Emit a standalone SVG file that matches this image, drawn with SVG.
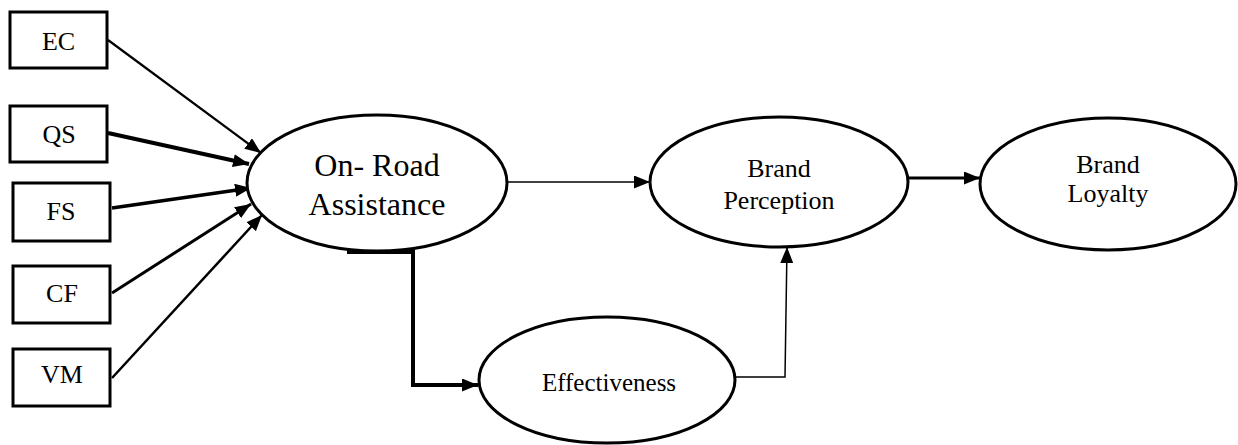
<svg xmlns="http://www.w3.org/2000/svg" width="1238" height="445" viewBox="0 0 1238 445">
<style>
.box{fill:#fff;stroke:#000;stroke-width:3}
.ell{fill:#fff;stroke:#000;stroke-width:3}
.lbl{fill:#000;text-anchor:middle}
.c{fill:none;stroke:#000;marker-end:url(#ah)}
</style>
<defs>
<marker id="ah" viewBox="0 0 16 13" refX="16" refY="6.5" markerWidth="16" markerHeight="13" markerUnits="userSpaceOnUse" orient="auto">
<path d="M0,0 L16,6.5 L0,13 z" fill="#000"/>
</marker>
</defs>
<g id="connectors">
<path class="c" stroke-width="2.2" d="M108,40 L261,153"/>
<path class="c" stroke-width="4" d="M108,133 L249,164"/>
<path class="c" stroke-width="3.5" d="M112,208 L251,188"/>
<path class="c" stroke-width="3" d="M112,293 L251,204"/>
<path class="c" stroke-width="2.5" d="M112,378 L262,215"/>
<path class="c" stroke-width="1.3" d="M508,182 L650,182"/>
<path class="c" stroke-width="3" d="M908,178 L980,178"/>
<path class="c" stroke-width="4" d="M347,252 H413 V385 H478"/>
<path class="c" stroke-width="1.5" d="M735,377 H785 L787,247"/>
</g>
<g font-family="Liberation Serif, Times New Roman, DejaVu Serif, serif">
<g id="EC"><rect class="box" x="10" y="12" width="97" height="56"/><text class="lbl" x="58.5" y="50" font-size="26">EC</text></g>
<g id="QS"><rect class="box" x="10" y="106" width="97" height="56"/><text class="lbl" x="59" y="143" font-size="26">QS</text></g>
<g id="FS"><rect class="box" x="13" y="183" width="97" height="58" stroke-width="2.5"/><text class="lbl" x="61" y="220" font-size="26">FS</text></g>
<g id="CF"><rect class="box" x="13" y="266" width="97" height="57" stroke-width="2.5"/><text class="lbl" x="62" y="302" font-size="26">CF</text></g>
<g id="VM"><rect class="box" x="13" y="349" width="97" height="57"/><text class="lbl" x="62" y="383" font-size="26">VM</text></g>
<g id="OnRoad"><ellipse class="ell" cx="377" cy="183" rx="130" ry="68"/><text class="lbl" x="377" y="176" font-size="32">On- Road</text><text class="lbl" x="377" y="215" font-size="32">Assistance</text></g>
<g id="BrandPerception"><ellipse class="ell" cx="779" cy="182" rx="129" ry="65"/><text class="lbl" x="779" y="177" font-size="26">Brand</text><text class="lbl" x="779" y="209" font-size="26">Perception</text></g>
<g id="BrandLoyalty"><ellipse class="ell" cx="1108" cy="184" rx="128" ry="66"/><text class="lbl" x="1108" y="173" font-size="26">Brand</text><text class="lbl" x="1108" y="202" font-size="26">Loyalty</text></g>
<g id="Effectiveness"><ellipse class="ell" cx="607" cy="380" rx="128" ry="63"/><text class="lbl" x="609" y="391" font-size="25">Effectiveness</text></g>
</g>
</svg>
